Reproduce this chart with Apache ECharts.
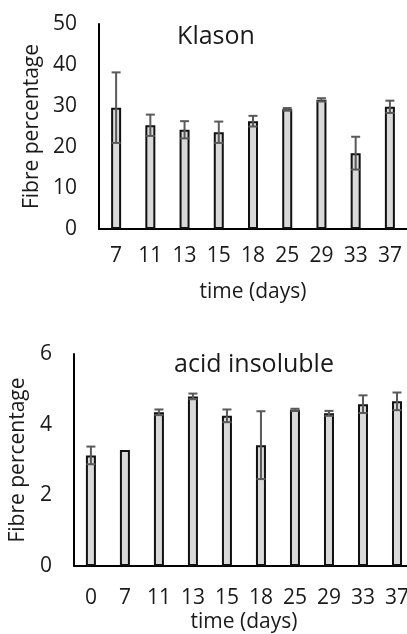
<!DOCTYPE html>
<html>
<head>
<meta charset="utf-8">
<script src="https://cdn.jsdelivr.net/npm/echarts@6/dist/echarts.min.js"></script>
<style>
  html, body { margin: 0; padding: 0; background: #fff; overflow: hidden; }
  #chart { width: 416px; height: 634px; }
</style>
</head>
<body>
<div id="chart"></div>
<script>
const klasonDays = ['7', '11', '13', '15', '18', '25', '29', '33', '37']
const klasonValues = [29.6, 25.3, 24.2, 23.6, 26.3, 29.2, 31.5, 18.5, 29.8]
const klasonErrors = [8.6, 2.6, 2.1, 2.6, 1.3, 0.3, 0.4, 4.0, 1.5]

const acidDays = ['0', '7', '11', '13', '15', '18', '25', '29', '33', '37']
const acidValues = [3.13, 3.28, 4.35, 4.80, 4.25, 3.42, 4.42, 4.32, 4.58, 4.66]
const acidErrors = [0.25, 0, 0.08, 0.08, 0.18, 0.96, 0.03, 0.07, 0.25, 0.25]

const FONT = 'Open Sans'
const TEXT_COLOR = '#1a1a1a'

function errorBar(params, api) {
  const x = api.value(0)
  const y = api.value(1)
  const e = api.value(2)
  if (!e) return null
  const hi = api.coord([x, y + e])
  const lo = api.coord([x, y - e])
  const hw = 4.5
  const style = { stroke: '#595959', lineWidth: 2 }
  return {
    type: 'group',
    children: [
      { type: 'line', shape: { x1: hi[0], y1: hi[1], x2: lo[0], y2: lo[1] }, style },
      { type: 'line', shape: { x1: hi[0] - hw, y1: hi[1], x2: hi[0] + hw, y2: hi[1] }, style },
      { type: 'line', shape: { x1: lo[0] - hw, y1: lo[1], x2: lo[0] + hw, y2: lo[1] }, style },
    ],
  }
}

function xAxisFor(days, gridIndex, labelMargin, nameGap) {
  return {
    type: 'category',
    gridIndex,
    data: days,
    name: 'time (days)',
    nameLocation: 'middle',
    nameGap,
    nameTextStyle: { fontFamily: FONT, fontSize: 21, color: TEXT_COLOR },
    axisLine: { lineStyle: { color: '#000', width: 2 } },
    axisTick: { show: false },
    axisLabel: { margin: labelMargin, fontFamily: FONT, fontSize: 21, color: TEXT_COLOR, interval: 0 },
  }
}

function yAxisFor(max, interval, gridIndex, nameGap) {
  return {
    type: 'value',
    gridIndex,
    min: 0,
    max,
    interval,
    name: 'Fibre percentage',
    nameLocation: 'middle',
    nameGap,
    nameTextStyle: { fontFamily: FONT, fontSize: 21, color: TEXT_COLOR },
    axisLine: { show: true, lineStyle: { color: '#000', width: 2 } },
    axisTick: { show: false },
    splitLine: { show: false },
    axisLabel: { margin: 22, fontFamily: FONT, fontSize: 21, color: TEXT_COLOR },
  }
}

function barSeries(values, index) {
  return {
    type: 'bar',
    xAxisIndex: index,
    yAxisIndex: index,
    data: values,
    barWidth: 10,
    itemStyle: { color: '#d9d9d9', borderColor: '#111', borderWidth: 2 },
    silent: true,
  }
}

function errorSeries(values, errors, index) {
  return {
    type: 'custom',
    xAxisIndex: index,
    yAxisIndex: index,
    renderItem: errorBar,
    data: values.map((v, i) => [i, v, errors[i]]),
    z: 5,
    silent: true,
  }
}

const chart = echarts.init(document.getElementById('chart'))

chart.setOption({
  animation: false,
  title: [
    {
      text: 'Klason', left: 211, top: 19, textAlign: 'center',
      textStyle: { fontFamily: FONT, fontSize: 25, fontWeight: 'normal', color: TEXT_COLOR },
    },
    {
      text: 'acid insoluble', left: 249, top: 347, textAlign: 'center',
      textStyle: { fontFamily: FONT, fontSize: 25, fontWeight: 'normal', color: TEXT_COLOR },
    },
  ],
  grid: [
    { left: 99, top: 24, width: 308, height: 205 },
    { left: 73, top: 354, width: 341, height: 212 },
  ],
  xAxis: [
    xAxisFor(klasonDays, 0, 17, 53),
    xAxisFor(acidDays, 1, 22, 46),
  ],
  yAxis: [
    yAxisFor(50, 10, 0, 56),
    yAxisFor(6, 2, 1, 35),
  ],
  series: [
    barSeries(klasonValues, 0),
    errorSeries(klasonValues, klasonErrors, 0),
    barSeries(acidValues, 1),
    errorSeries(acidValues, acidErrors, 1),
  ],
})
</script>
</body>
</html>
